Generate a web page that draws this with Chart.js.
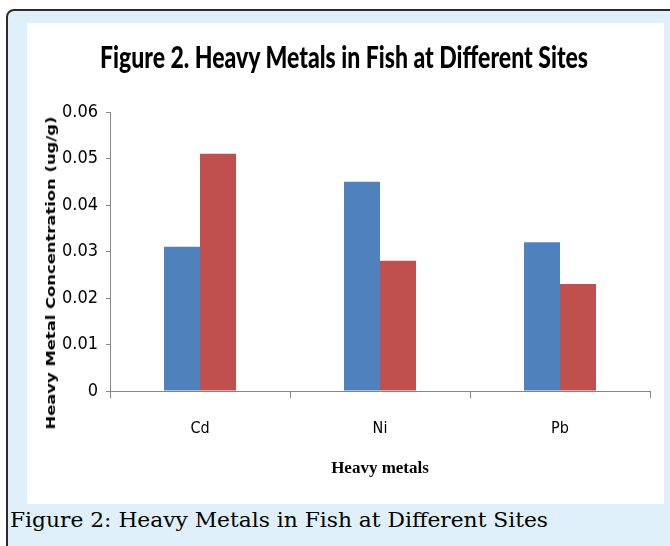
<!DOCTYPE html>
<html>
<head>
<meta charset="utf-8">
<script src="https://cdn.jsdelivr.net/npm/chart.js"></script>
<style>
    body { margin: 0; width: 670px; height: 546px; overflow: hidden; background: #fff; position: relative; }
    #frame { position: absolute; left: 6px; top: 9px; width: 690px; height: 570px; box-sizing: border-box;
        border: 2px solid #2b2b2b; border-radius: 8px; background: #dff0fa; }
    #plot { position: absolute; left: 27px; top: 23px; width: 637px; height: 481px; background: #fff; }
    #title { position: absolute; left: 100px; top: 41px; font: 900 31px Lato; line-height: 31px;
        white-space: nowrap; color: #000; transform-origin: 0 0; }
    #ytitle { position: absolute; left: 51px; top: 273px; font: bold 12px "DejaVu Sans"; line-height: 12px;
        white-space: nowrap; color: #000; }
    #caption { position: absolute; left: 10px; top: 510px; font: 21px "DejaVu Serif"; line-height: 21px;
        white-space: nowrap; color: #000; transform-origin: 0 0; }
</style>
</head>
<body>
<div id="frame"></div>
<div id="plot"><canvas id="myChart" width="637" height="481"></canvas></div>
<div id="title">Figure 2. Heavy Metals in Fish at Different Sites</div>
<div id="ytitle">Heavy Metal Concentration (ug/g)</div>
<div id="caption">Figure 2: Heavy Metals in Fish at Different Sites</div>
<script>
// data
var metals = ["Cd", "Ni", "Pb"];
var site1 = [0.031, 0.045, 0.032];
var site2 = [0.051, 0.028, 0.023];
var yTicks = [0, 0.01, 0.02, 0.03, 0.04, 0.05, 0.06];

// squeeze text to the width it has in the picture
fitWidth = function (id, w) {
    let el = document.getElementById(id);
    let k = w / el.getBoundingClientRect().width;
    el.style.transform = "scaleX(" + k + ")";
}

fitWidth("title", 488);
fitWidth("caption", 538);

// y title: rotate and stretch along its length
var yt = document.getElementById("ytitle");
var ytw = yt.getBoundingClientRect().width;
yt.style.transform = "translate(-50%,-50%) rotate(-90deg) scaleX(" + (313 / ytw) + ")";

var axisGrey = "#868686";
var narrow = '"DejaVu Sans Condensed", "DejaVu Sans", sans-serif';

new Chart("myChart", {
    type: "bar",
    data: {
        labels: metals,
        datasets: [
            { label: "Site 1", data: site1, backgroundColor: "#4f81bd" },
            { label: "Site 2", data: site2, backgroundColor: "#c0504d" }
        ]
    },
    options: {
        responsive: false,
        animation: false,
        categoryPercentage: 0.4,
        barPercentage: 1.0,
        layout: { padding: { left: 0, top: 89, right: 14, bottom: 0 } },
        plugins: { legend: { display: false }, tooltip: { enabled: false } },
        scales: {
            x: {
                grid: { offset: true, drawOnChartArea: false, tickLength: 7, color: axisGrey },
                border: { color: axisGrey, width: 1 },
                ticks: { color: "#000", padding: 21, font: { family: narrow, style: "condensed", size: 16 } },
                title: {
                    display: true, text: "Heavy metals", color: "#000",
                    font: { family: "Liberation Serif", size: 17, weight: "bold" },
                    padding: { bottom: 25 }
                },
                afterFit: function (scale) { scale.height = 113; }
            },
            y: {
                min: 0, max: 0.06,
                afterBuildTicks: function (scale) { scale.ticks = yTicks.map(function (v) { return { value: v }; }); },
                grid: { drawOnChartArea: false, tickLength: 4, color: axisGrey },
                border: { color: axisGrey, width: 1 },
                ticks: {
                    color: "#000", padding: 8,
                    font: { family: narrow, style: "condensed", size: 18 },
                    callback: function (v) { return v === 0 ? "0" : v.toFixed(2); }
                },
                afterFit: function (scale) { scale.width = 83; }
            }
        }
    }
});
</script>
</body>
</html>
